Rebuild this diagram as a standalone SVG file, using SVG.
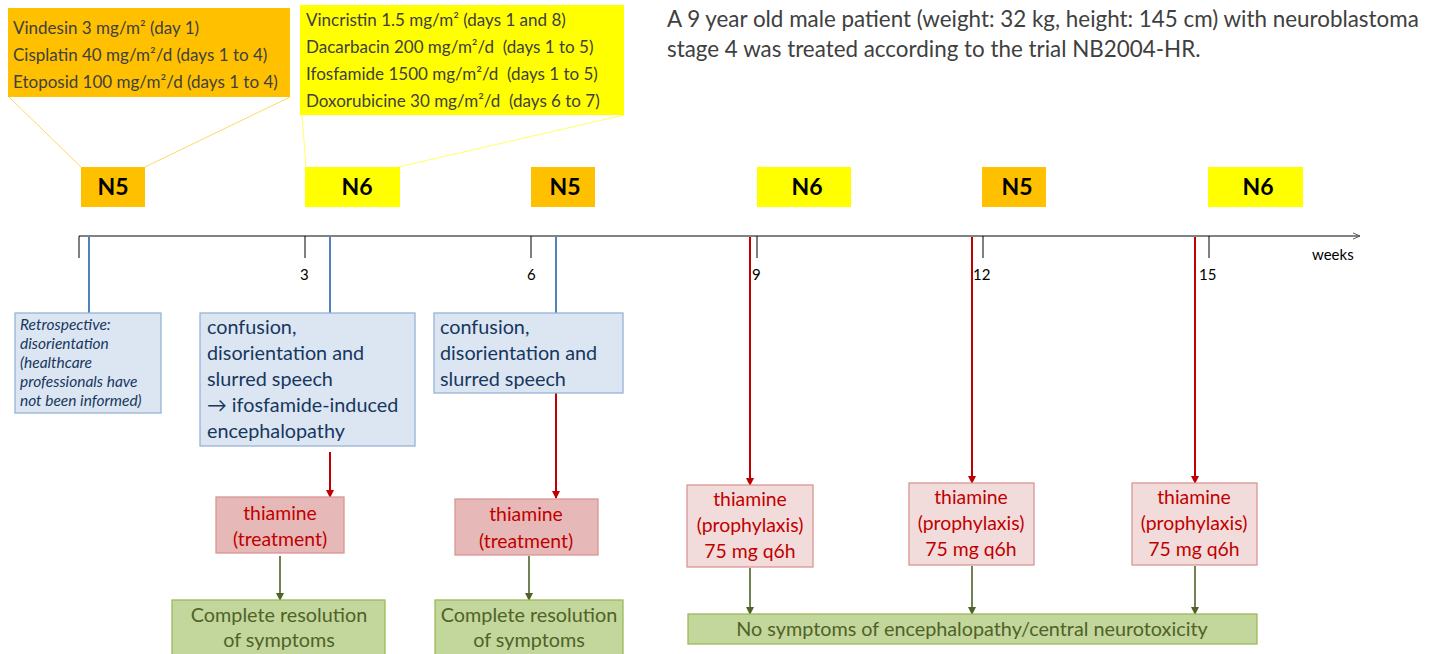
<svg xmlns="http://www.w3.org/2000/svg" width="1437" height="654" viewBox="0 0 1437 654">
<defs>
<marker id="ar" viewBox="0 0 8 8" refX="7" refY="4" markerWidth="8" markerHeight="8" markerUnits="userSpaceOnUse" orient="auto"><path d="M0,0 L8,4 L0,8 z" fill="#c00000"/></marker>
<marker id="ag" viewBox="0 0 8 8" refX="7" refY="4" markerWidth="8" markerHeight="8" markerUnits="userSpaceOnUse" orient="auto"><path d="M0,0 L8,4 L0,8 z" fill="#4f6228"/></marker>
<marker id="ak" viewBox="0 0 10 10" refX="9" refY="5" markerWidth="8" markerHeight="8" markerUnits="userSpaceOnUse" orient="auto"><path d="M0,1 L9,5 L0,9" fill="none" stroke="#595959" stroke-width="1.2"/></marker>
</defs>
<style>
text{font-family:Lato,"Open Sans","Liberation Sans",sans-serif;white-space:pre}
.drug{font-size:17px;fill:#404040}
.nl{font-size:23px;font-weight:bold;fill:#000;text-anchor:middle}
.orange{fill:#ffc000}
.yellow{fill:#ffff00}
.tick{stroke:#000;stroke-width:1}
.tl{font-size:15px;fill:#000}
.blue{fill:#dce6f2;stroke:#95b3d7;stroke-width:1.3}
.bt{font-size:19.8px;fill:#17375e}
.it{font-size:15.5px;font-style:italic;fill:#17375e}
.bl{stroke:#4f81bd;stroke-width:2}
.rl{stroke:#c00000;stroke-width:2}
.gl{stroke:#4f6228;stroke-width:1.6}
.tr{fill:#e6b9b8;stroke:#d99694;stroke-width:1.3}
.pr{fill:#f2dcdb;stroke:#d99694;stroke-width:1.3}
.rt{font-size:19.4px;fill:#c00000;text-anchor:middle}
.gr{fill:#c3d69b;stroke:#9bbb59;stroke-width:1.3}
.gt{font-size:19.8px;fill:#4f6228;text-anchor:middle}
</style>
<rect width="1437" height="654" fill="#fff"/>

<g id="title">
<text x="667" y="27" font-size="22.4" fill="#404040">A 9 year old male patient (weight: 32 kg, height: 145 cm) with neuroblastoma</text>
<text x="667" y="57" font-size="22.4" fill="#404040">stage 4 was treated according to the trial NB2004-HR.</text>
</g>

<g id="connectors">
<line x1="9" y1="97" x2="81" y2="167" stroke="#ffd966" stroke-width="1"/>
<line x1="290" y1="97" x2="145" y2="167" stroke="#ffd966" stroke-width="1"/>
<line x1="302" y1="115" x2="306" y2="167" stroke="#ffff66" stroke-width="1"/>
<line x1="624" y1="115" x2="398" y2="167" stroke="#ffff66" stroke-width="1"/>
<line x1="79" y1="236" x2="1360" y2="236" stroke="#595959" stroke-width="1.3" marker-end="url(#ak)"/>
<line class="tick" x1="79" y1="236" x2="79" y2="258"/>
<line class="tick" x1="305" y1="236" x2="305" y2="258"/>
<line class="tick" x1="531" y1="236" x2="531" y2="258"/>
<line class="tick" x1="757" y1="236" x2="757" y2="258"/>
<line class="tick" x1="983" y1="236" x2="983" y2="258"/>
<line class="tick" x1="1209" y1="236" x2="1209" y2="258"/>
<line class="bl" x1="89" y1="237" x2="89" y2="313"/>
<line class="bl" x1="330" y1="237" x2="330" y2="313"/>
<line class="bl" x1="556" y1="237" x2="556" y2="313"/>
<line class="rl" x1="330" y1="452" x2="330" y2="497" marker-end="url(#ar)"/>
<line class="rl" x1="556" y1="393" x2="556" y2="498" marker-end="url(#ar)"/>
<line class="rl" x1="750" y1="237" x2="750" y2="485" marker-end="url(#ar)"/>
<line class="rl" x1="972" y1="237" x2="972" y2="483" marker-end="url(#ar)"/>
<line class="rl" x1="1195" y1="237" x2="1195" y2="483" marker-end="url(#ar)"/>
<line class="gl" x1="280" y1="556" x2="280" y2="600" marker-end="url(#ag)"/>
<line class="gl" x1="529" y1="556" x2="529" y2="600" marker-end="url(#ag)"/>
<line class="gl" x1="750" y1="568" x2="750" y2="614" marker-end="url(#ag)"/>
<line class="gl" x1="972" y1="566" x2="972" y2="614" marker-end="url(#ag)"/>
<line class="gl" x1="1195" y1="566" x2="1195" y2="614" marker-end="url(#ag)"/>
</g>

<g id="axis-labels">
<text class="tl" x="300" y="280">3</text>
<text class="tl" x="527" y="280">6</text>
<text class="tl" x="752" y="280">9</text>
<text class="tl" x="973" y="280">12</text>
<text class="tl" x="1199" y="280">15</text>
<text class="tl" x="1312" y="260" font-size="16.5">weeks</text>
</g>

<g id="n5-drugs">
<rect class="orange" x="8" y="8" width="282" height="89"/>
<text class="drug" x="13" y="34">Vindesin 3 mg/m² (day 1)</text>
<text class="drug" x="13" y="61">Cisplatin 40 mg/m²/d (days 1 to 4)</text>
<text class="drug" x="13" y="88">Etoposid 100 mg/m²/d (days 1 to 4)</text>
</g>
<g id="n6-drugs">
<rect class="yellow" x="300" y="5" width="324" height="110"/>
<text class="drug" x="306" y="26">Vincristin 1.5 mg/m² (days 1 and 8)</text>
<text class="drug" x="306" y="53">Dacarbacin 200 mg/m²/d  (days 1 to 5)</text>
<text class="drug" x="306" y="80">Ifosfamide 1500 mg/m²/d  (days 1 to 5)</text>
<text class="drug" x="306" y="107">Doxorubicine 30 mg/m²/d  (days 6 to 7)</text>
</g>

<g id="c1"><rect class="orange" x="81" y="167" width="64" height="40"/><text class="nl" x="113" y="195">N5</text></g>
<g id="c2"><rect class="yellow" x="305" y="167" width="95" height="40"/><text class="nl" x="357" y="195">N6</text></g>
<g id="c3"><rect class="orange" x="531" y="167" width="64" height="40"/><text class="nl" x="565" y="195">N5</text></g>
<g id="c4"><rect class="yellow" x="757" y="167" width="94" height="40"/><text class="nl" x="807" y="195">N6</text></g>
<g id="c5"><rect class="orange" x="982" y="167" width="64" height="40"/><text class="nl" x="1017" y="195">N5</text></g>
<g id="c6"><rect class="yellow" x="1208" y="167" width="95" height="40"/><text class="nl" x="1258" y="195">N6</text></g>

<g id="retro">
<rect class="blue" x="15" y="313" width="146" height="100"/>
<text class="it" x="20" y="330">Retrospective:</text>
<text class="it" x="20" y="349">disorientation</text>
<text class="it" x="20" y="368">(healthcare</text>
<text class="it" x="20" y="387">professionals have</text>
<text class="it" x="20" y="406">not been informed)</text>
</g>
<g id="sym1">
<rect class="blue" x="200" y="313" width="215" height="133"/>
<text class="bt" x="207" y="334">confusion,</text>
<text class="bt" x="207" y="360">disorientation and</text>
<text class="bt" x="207" y="386">slurred speech</text>
<text class="bt" x="207" y="412">→ ifosfamide-induced</text>
<text class="bt" x="207" y="438">encephalopathy</text>
</g>
<g id="sym2">
<rect class="blue" x="434" y="313" width="189" height="80"/>
<text class="bt" x="440" y="334">confusion,</text>
<text class="bt" x="440" y="360">disorientation and</text>
<text class="bt" x="440" y="386">slurred speech</text>
</g>

<g id="thi1"><rect class="tr" x="216" y="497" width="128" height="56"/><text class="rt" x="280" y="520">thiamine</text><text class="rt" x="280" y="546">(treatment)</text></g>
<g id="thi2"><rect class="tr" x="455" y="499" width="143" height="56"/><text class="rt" x="526" y="521">thiamine</text><text class="rt" x="526" y="548">(treatment)</text></g>
<g id="pro1"><rect class="pr" x="687" y="485" width="126" height="82"/><text class="rt" x="750" y="506">thiamine</text><text class="rt" x="750" y="532">(prophylaxis)</text><text class="rt" x="750" y="558">75 mg q6h</text></g>
<g id="pro2"><rect class="pr" x="909" y="483" width="125" height="82"/><text class="rt" x="971" y="504">thiamine</text><text class="rt" x="971" y="530">(prophylaxis)</text><text class="rt" x="971" y="556">75 mg q6h</text></g>
<g id="pro3"><rect class="pr" x="1132" y="483" width="125" height="82"/><text class="rt" x="1194" y="504">thiamine</text><text class="rt" x="1194" y="530">(prophylaxis)</text><text class="rt" x="1194" y="556">75 mg q6h</text></g>

<g id="res1"><rect class="gr" x="172" y="600" width="213" height="60"/><text class="gt" x="279" y="622">Complete resolution</text><text class="gt" x="279" y="647">of symptoms</text></g>
<g id="res2"><rect class="gr" x="435" y="600" width="188" height="60"/><text class="gt" x="529" y="622">Complete resolution</text><text class="gt" x="529" y="647">of symptoms</text></g>
<g id="res3"><rect class="gr" x="688" y="614" width="569" height="30"/><text class="gt" x="972" y="636">No symptoms of encephalopathy/central neurotoxicity</text></g>
</svg>
